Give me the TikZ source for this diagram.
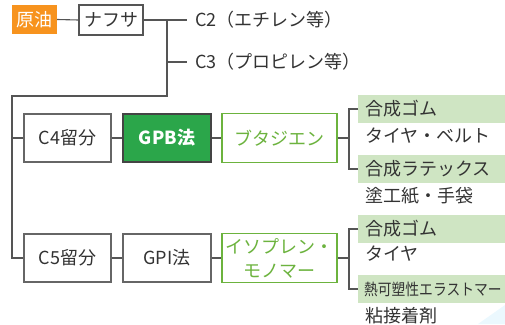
\documentclass[tikz,border=0pt]{standalone}
\usepackage{graphicx}
\usepackage{fontspec}
\setmainfont{Noto Sans CJK JP}
\definecolor{txt}{HTML}{333333}
\definecolor{ln}{HTML}{555555}
\definecolor{orng}{HTML}{F7931E}
\definecolor{dgreen}{HTML}{2BA64A}
\definecolor{lgreen}{HTML}{6CB33E}
\definecolor{pgreen}{HTML}{CFE5C3}
\begin{document}
\begin{tikzpicture}[x=1pt,y=-1pt,
  every node/.style={font=\fontsize{18}{22}\selectfont, text=txt},
  conn/.style={draw=ln, line width=1.1pt},
  graybox/.style={draw=ln!90, line width=1.3pt, fill=white, minimum height=48pt, minimum width=87pt, inner sep=0pt},
  greenbox/.style={draw=lgreen, line width=1.3pt, fill=white, text=lgreen, minimum height=49pt, minimum width=115pt, inner sep=0pt, align=center},
  labbox/.style={fill=pgreen, minimum height=28pt, minimum width=147pt, anchor=west, inner xsep=7pt, text width=133pt, align=left},
  plain/.style={anchor=west, inner xsep=7pt, inner ysep=0pt}
]
\useasboundingbox (0,0) rectangle (505,324);
\fill[cyan!8] (478,324) -- (505,305) -- (505,324) -- cycle;

\node[fill=orng, text=white, minimum width=45pt, minimum height=29pt, inner sep=0pt] (oil) at (34.5,19.5) {原油};
\node[draw=ln, line width=1.2pt, minimum width=64pt, minimum height=30pt, inner sep=0pt] (naph) at (111,20) {ナフサ};
\node[anchor=west, inner xsep=8pt] (c2) at (187,20) {C2（エチレン等）};
\node[anchor=west, inner xsep=8pt] (c3) at (187,62) {C3（プロピレン等）};

\coordinate (j1) at (167,20);
\coordinate (j3) at (167,96);
\coordinate (j4) at (12,96);
\coordinate (j5) at (12,138);

\node[graybox] (c4) at (67.5,138) {C4留分};
\node[graybox, fill=dgreen, draw=ln!80!black, text=white, minimum width=88pt, font=\fontsize{18}{22}\selectfont\bfseries] (gpb) at (167,138) {GPB法};
\node[greenbox] (buta) at (279.5,138) {ブタジエン};

\node[graybox] (c5) at (67.5,258) {C5留分};
\node[graybox, minimum width=88pt] (gpi) at (167,258) {GPI法};
\node[greenbox, font=\fontsize{18}{24}\selectfont] (iso) at (279.5,258) {イソプレン・\\モノマー};

\node[labbox] (r1) at (358,109) {合成ゴム};
\node[plain] (t1) at (358,136) {タイヤ・ベルト};
\node[labbox] (r2) at (358,169) {合成ラテックス};
\node[plain] (t2) at (358,196) {塗工紙・手袋};

\node[labbox] (r3) at (358,229) {合成ゴム};
\node[plain] (t3) at (358,254) {タイヤ};
\node[labbox, inner xsep=6pt, text width=135pt] (r4) at (358,289) {\scalebox{0.86}[1]{\fontsize{16}{18}\selectfont 熱可塑性エラストマー}};
\node[plain] (t4) at (358,316) {粘接着剤};

\coordinate (bx1) at (349,138);
\coordinate (bx2) at (349,258);

\draw[conn] (oil.east) -- (naph.west);
\draw[conn] (naph.east) -- (c2.west);
\draw[conn] (j1) |- (c3.west);
\draw[conn] (j1) -- (j3) -- (j4) |- (c5.west);
\draw[conn] (j5) -- (c4.west);
\draw[conn] (c4.east) -- (gpb.west);
\draw[conn] (gpb.east) -- (buta.west);
\draw[conn] (c5.east) -- (gpi.west);
\draw[conn] (gpi.east) -- (iso.west);
\draw[conn] (buta.east) -- (bx1);
\draw[conn] (r1.west) -| (bx1) |- (r2.west);
\draw[conn] (iso.east) -- (bx2);
\draw[conn] (r3.west) -| (bx2) |- (r4.west);
\end{tikzpicture}
\end{document}
